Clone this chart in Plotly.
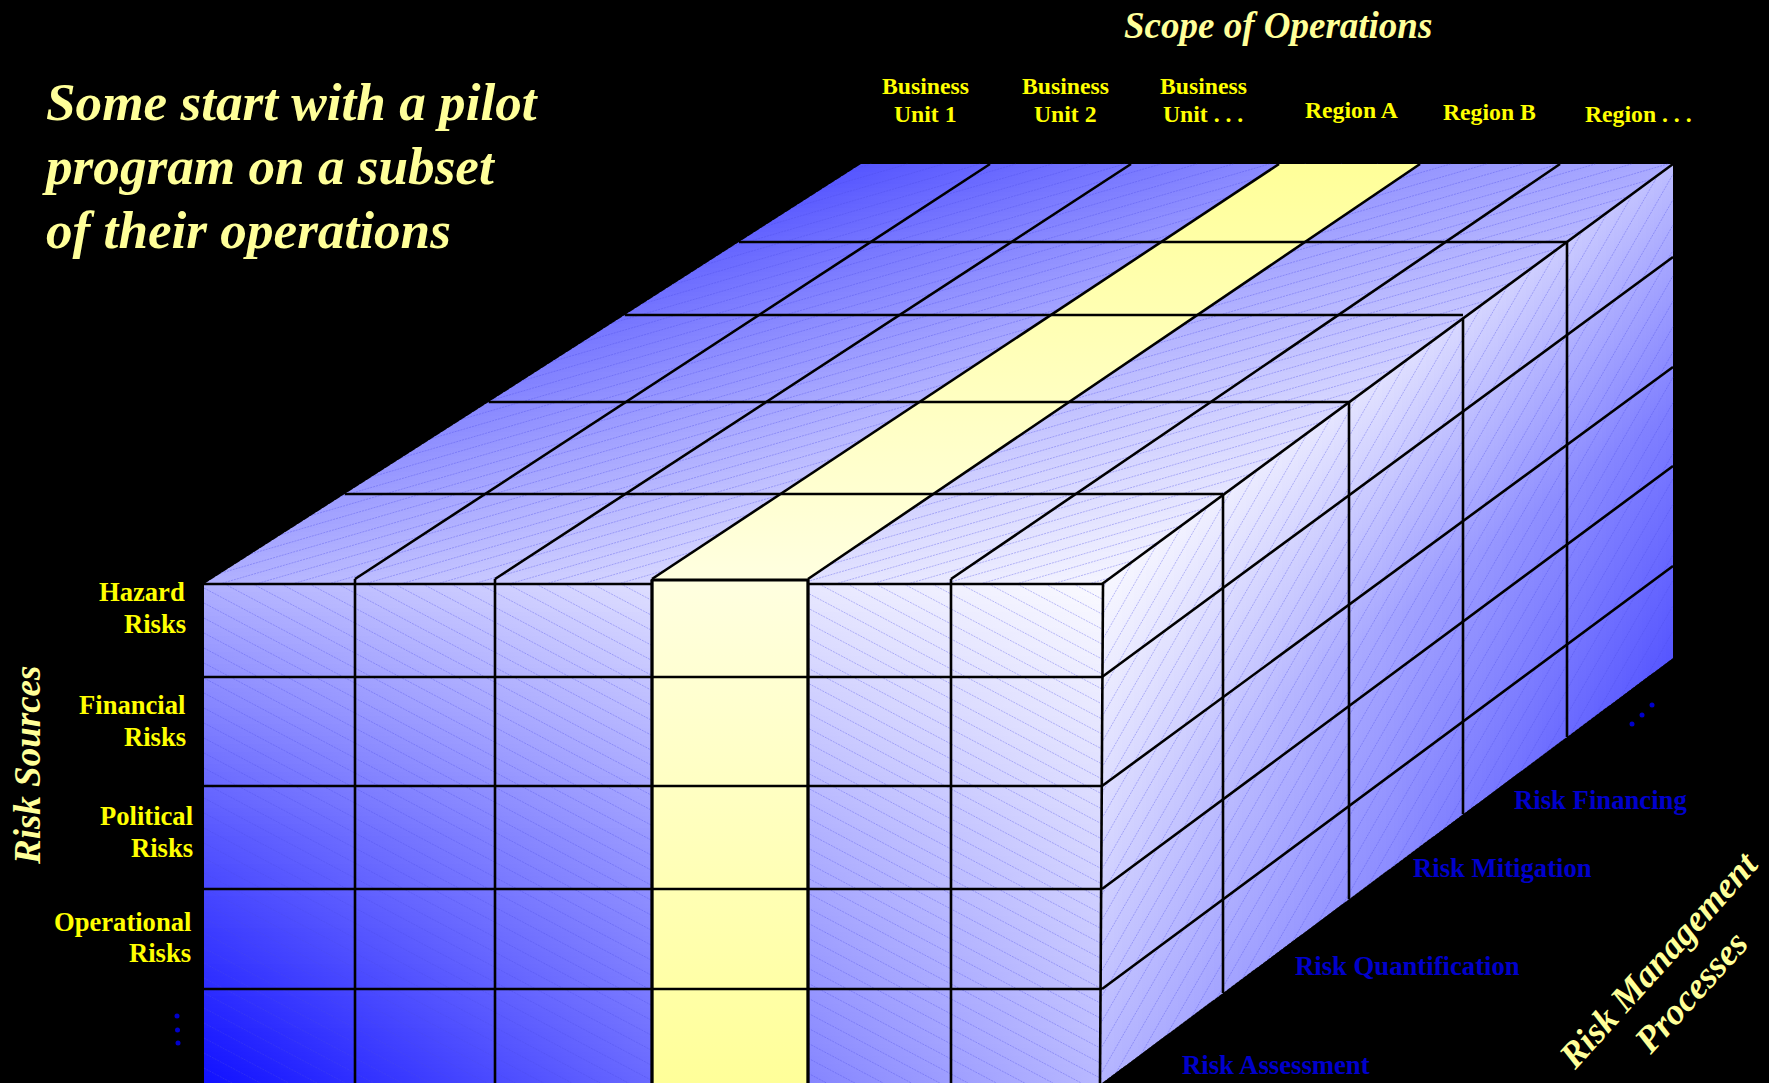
import numpy as np
import plotly.graph_objects as go

# Labels of the three cube axes
SCOPE_TITLE = "Scope of Operations"
SOURCES_TITLE = "Risk Sources"
PROCESS_TITLE = ["Risk Management", "Processes"]
HEADLINE = ["Some start with a pilot", "program on a subset", "of their operations"]
SCOPE_LABELS = [["Business", "Unit 1"], ["Business", "Unit 2"], ["Business", "Unit . . ."],
                ["Region A"], ["Region B"], ["Region . . ."]]
SOURCE_LABELS = [["Hazard", "Risks"], ["Financial", "Risks"], ["Political", "Risks"],
                 ["Operational", "Risks"]]
PROCESS_LABELS = ["Risk Financing", "Risk Mitigation", "Risk Quantification", "Risk Assessment"]

# Cube grid on the page, in pixels
FRONT_COLS = [204, 355, 495, 652, 808, 951, 1102]
BACK_COLS = [861, 990, 1131, 1279, 1420, 1560, 1673]
FRONT_ROWS = [584, 677, 786, 889, 989, 1083]
BACK_ROWS = [164, 257, 367, 466, 566, 658]
DEPTH_Y = [584, 494, 402, 315, 242, 164]
DEPTH_X = [1102, 1223, 1349, 1463, 1567, 1673]
HIGHLIGHT_COL = 3

# Red/green level of the blue faces on a coarse 3x3 grid (left to right, first to last)
FRONT_LEVELS = [[176, 222, 250], [86, 155, 216], [16, 105, 184]]
TOP_LEVELS = [[176, 215, 245], [128, 175, 210], [85, 136, 170]]
SIDE_LEVELS = [[248, 225, 190], [215, 165, 125], [180, 140, 85]]

YELLOW_LIGHT = "#FFFFE0"
YELLOW_DEEP = "#FFFF99"
PALE_TEXT = "#FFFF99"
LABEL_TEXT = "#FFFF00"
BLUE_TEXT = "#0000CC"
SERIF = "Liberation Serif"
STRIP = 4

depth_t = [(DEPTH_Y[0] - y) / (DEPTH_Y[0] - DEPTH_Y[-1]) for y in DEPTH_Y]


def level_at(grid, across, along):
    """Bilinear lookup in a 3x3 level grid, with both fractions in 0..1."""
    return float(np.interp(along, [0, .5, 1],
                           [np.interp(across, [0, .5, 1], row) for row in grid]))


def blue(level):
    v = int(round(level))
    return f"rgb({v},{v},255)"


fig = go.Figure()


def add_strip(xs, ys, direction, grid, fixed):
    """One thin polygon whose fill follows the level grid along its length."""
    if direction == "horizontal":
        stops = [[s, blue(level_at(grid, s, fixed))] for s in (0, .5, 1)]
    else:
        # vertical gradients start at the bottom of the polygon; depth is the fixed fraction
        stops = [[s, blue(level_at(grid, fixed, 1 - s))] for s in (0, .5, 1)]
    fig.add_trace(go.Scatter(x=xs, y=ys, mode="lines", fill="toself", line=dict(width=0),
                             fillgradient=dict(type=direction, colorscale=stops),
                             hoverinfo="skip", showlegend=False))


# Front face: thin rows, each with a left-to-right gradient
y0, y1 = FRONT_ROWS[0], FRONT_ROWS[-1]
for y in range(y0, y1, STRIP):
    bottom = min(y + STRIP + 1, y1)
    add_strip([FRONT_COLS[0], FRONT_COLS[-1], FRONT_COLS[-1], FRONT_COLS[0]],
              [y, y, bottom, bottom], "horizontal", FRONT_LEVELS, (y - y0) / (y1 - y0))

# Top face: thin rows sheared with the depth
ty0, ty1 = DEPTH_Y[0], DEPTH_Y[-1]
left_dx, right_dx = BACK_COLS[0] - FRONT_COLS[0], BACK_COLS[-1] - FRONT_COLS[-1]
for y in range(ty1, ty0, STRIP):
    bottom = min(y + STRIP + 1, ty0)
    ta, tb = (ty0 - y) / (ty0 - ty1), (ty0 - bottom) / (ty0 - ty1)
    add_strip([FRONT_COLS[0] + left_dx * ta, FRONT_COLS[-1] + right_dx * ta,
               FRONT_COLS[-1] + right_dx * tb, FRONT_COLS[0] + left_dx * tb],
              [y, y, bottom, bottom], "horizontal", TOP_LEVELS, ta)

# Side face: thin columns, each with a top-to-bottom gradient
sx0, sx1 = FRONT_COLS[-1], BACK_COLS[-1]


def side_y(front, back, x):
    return front + (back - front) * (x - sx0) / (sx1 - sx0)


for x in range(sx0, sx1, STRIP):
    right = min(x + STRIP + 1, sx1)
    ta = (x - sx0) / (sx1 - sx0)
    add_strip([x, right, right, x],
              [side_y(FRONT_ROWS[0], BACK_ROWS[0], x), side_y(FRONT_ROWS[0], BACK_ROWS[0], right),
               side_y(FRONT_ROWS[-1], BACK_ROWS[-1], right), side_y(FRONT_ROWS[-1], BACK_ROWS[-1], x)],
              "vertical", SIDE_LEVELS, ta)


def clip_to_convex(p, d, poly):
    """Cyrus-Beck clip of the line p + s*d against a convex polygon."""
    lo, hi = -1e9, 1e9
    n = len(poly)
    area = sum(poly[i][0] * poly[(i + 1) % n][1] - poly[(i + 1) % n][0] * poly[i][1] for i in range(n))
    sign = 1 if area > 0 else -1
    for i in range(n):
        ax, ay = poly[i]
        bx, by = poly[(i + 1) % n]
        nx, ny = -(by - ay) * sign, (bx - ax) * sign
        denom = nx * d[0] + ny * d[1]
        num = nx * (p[0] - ax) + ny * (p[1] - ay)
        if abs(denom) < 1e-9:
            if num < 0:
                return None
            continue
        s = -num / denom
        if denom > 0:
            lo = max(lo, s)
        else:
            hi = min(hi, s)
    return (lo, hi) if lo < hi else None


def add_hatch(poly, slope, spacing, vertical_step=True):
    """Fine dotted diagonal texture clipped to a face."""
    xs, ys = [], []
    d = (1.0, slope)
    px = [q[0] for q in poly]
    py = [q[1] for q in poly]
    if vertical_step:
        offsets = np.arange(min(py) - abs(slope) * (max(px) - min(px)) - spacing,
                            max(py) + abs(slope) * (max(px) - min(px)) + spacing, spacing)
        starts = [(min(px), o) for o in offsets]
    else:
        span = (max(py) - min(py)) / abs(slope)
        offsets = np.arange(min(px) - span - spacing, max(px) + span + spacing, spacing)
        starts = [(o, min(py)) for o in offsets]
    for p in starts:
        hit = clip_to_convex(p, d, poly)
        if hit:
            xs += [p[0] + hit[0], p[0] + hit[1], None]
            ys += [p[1] + hit[0] * slope, p[1] + hit[1] * slope, None]
    fig.add_trace(go.Scatter(x=xs, y=ys, mode="lines", hoverinfo="skip", showlegend=False,
                             line=dict(color="rgba(75,75,230,0.36)", width=1, dash="2px,1px")))


front_poly = [(FRONT_COLS[0], y0), (FRONT_COLS[-1], y0), (FRONT_COLS[-1], y1), (FRONT_COLS[0], y1)]
top_poly = [(FRONT_COLS[0], ty0), (BACK_COLS[0], ty1), (BACK_COLS[-1], ty1), (FRONT_COLS[-1], ty0)]
side_poly = [(sx0, FRONT_ROWS[0]), (sx1, BACK_ROWS[0]), (sx1, BACK_ROWS[-1]), (sx0, FRONT_ROWS[-1])]
add_hatch(front_poly, 0.53, 15)
add_hatch(top_poly, -0.29, 10.5)
add_hatch(side_poly, -1.75, 14.5, vertical_step=False)

# Highlighted column across the top and the front
HEAD_Y = 580
c = HIGHLIGHT_COL
top_band = [[0, YELLOW_LIGHT], [1, YELLOW_DEEP]]
front_band = [[0, YELLOW_DEEP], [1, YELLOW_LIGHT]]
fig.add_trace(go.Scatter(x=[FRONT_COLS[c], BACK_COLS[c], BACK_COLS[c + 1], FRONT_COLS[c + 1]],
                         y=[HEAD_Y, ty1, ty1, HEAD_Y], mode="lines", fill="toself",
                         line=dict(width=0), hoverinfo="skip", showlegend=False,
                         fillgradient=dict(type="vertical", colorscale=top_band)))
fig.add_trace(go.Scatter(x=[FRONT_COLS[c], FRONT_COLS[c + 1], FRONT_COLS[c + 1], FRONT_COLS[c]],
                         y=[HEAD_Y, HEAD_Y, y1, y1], mode="lines", fill="toself",
                         line=dict(width=0), hoverinfo="skip", showlegend=False,
                         fillgradient=dict(type="vertical", colorscale=front_band)))

# Cell borders
lx, ly = [], []


def segment(xa, ya, xb, yb):
    lx.extend([xa, xb, None])
    ly.extend([ya, yb, None])


for y in FRONT_ROWS[1:-1]:
    segment(FRONT_COLS[0], y, FRONT_COLS[-1], y)
segment(FRONT_COLS[0], FRONT_ROWS[0], FRONT_COLS[c], FRONT_ROWS[0])
segment(FRONT_COLS[c + 1], FRONT_ROWS[0], FRONT_COLS[-1], FRONT_ROWS[0])
for x in FRONT_COLS[1:-1]:
    segment(x, HEAD_Y - 1, x, y1)
segment(FRONT_COLS[-1] + 1, FRONT_ROWS[0], FRONT_COLS[-1] - 2, y1)
for fx, bx in list(zip(FRONT_COLS, BACK_COLS))[1:]:
    start_y = FRONT_ROWS[0] if fx == FRONT_COLS[-1] else HEAD_Y - 1
    segment(fx, start_y, bx, ty1)
for t, y, xr in list(zip(depth_t, DEPTH_Y, DEPTH_X))[1:-1]:
    segment(FRONT_COLS[0] + left_dx * t, y, xr, y)
for x in DEPTH_X[1:-1]:
    segment(x, side_y(FRONT_ROWS[0], BACK_ROWS[0], x), x, side_y(FRONT_ROWS[-1], BACK_ROWS[-1], x))
for fy, by in list(zip(FRONT_ROWS, BACK_ROWS))[1:-1]:
    segment(sx0, fy, sx1, by)
fig.add_trace(go.Scatter(x=lx, y=ly, mode="lines", line=dict(color="black", width=2.6),
                         hoverinfo="skip", showlegend=False))

# Heavier outline round the highlighted front cell
fig.add_trace(go.Scatter(
    x=[FRONT_COLS[c], FRONT_COLS[c], None, FRONT_COLS[c + 1], FRONT_COLS[c + 1], None,
       FRONT_COLS[c], FRONT_COLS[c + 1]],
    y=[HEAD_Y, y1, None, HEAD_Y, y1, None, HEAD_Y, HEAD_Y],
    mode="lines", line=dict(color="black", width=3), hoverinfo="skip", showlegend=False))

# Ellipsis dots after the last row and the last process
fig.add_trace(go.Scatter(x=[177, 177.5, 178, 1632, 1642, 1652], y=[1016, 1030, 1043, 724, 715, 705],
                         mode="markers", marker=dict(color=BLUE_TEXT, size=5),
                         hoverinfo="skip", showlegend=False))


def text(x, y, s, size, color, anchor="center", italic=False, angle=0):
    fig.add_annotation(x=x, y=y, text=s, xref="x", yref="y", showarrow=False, xanchor=anchor,
                       yanchor="middle", textangle=angle, borderpad=0,
                       font=dict(family=SERIF, size=size, color=color, weight="bold",
                                 style="italic" if italic else "normal"))


for line, x, y in zip(HEADLINE, [45, 41, 45], [102, 166, 230]):
    text(x, y, line, 53.2, PALE_TEXT, anchor="left", italic=True)
text(1278, 25, SCOPE_TITLE, 37, PALE_TEXT, italic=True)
text(27, 766, SOURCES_TITLE, 37, PALE_TEXT, italic=True, angle=-90)
text(1658, 959, PROCESS_TITLE[0], 36.5, PALE_TEXT, italic=True, angle=-48)
text(1690, 992, PROCESS_TITLE[1], 37, PALE_TEXT, italic=True, angle=-48)

scope_x = [925.5, 1065.5, 1203, 1351, 1489, 1638]
scope_y = [[86, 114], [86, 114], [86, 114], [110], [112], [114]]
for lines, x, ys in zip(SCOPE_LABELS, scope_x, scope_y):
    for line, y in zip(lines, ys):
        text(x, y, line, 23.7, LABEL_TEXT)

source_right = [[185.5, 186.5], [185.5, 186.5], [193.5, 193.5], [191.5, 191.5]]
source_y = [[592, 624], [705, 737], [816, 848], [922, 953]]
for lines, xs, ys in zip(SOURCE_LABELS, source_right, source_y):
    for line, x, y in zip(lines, xs, ys):
        text(x, y, line, 26.6, LABEL_TEXT, anchor="right")

for line, x, y in zip(PROCESS_LABELS, [1513, 1411.5, 1294, 1181], [800, 868, 966, 1065]):
    text(x, y, line, 26.7, BLUE_TEXT, anchor="left")

fig.update_layout(
    width=1769, height=1083, margin=dict(l=0, r=0, t=0, b=0),
    paper_bgcolor="black", plot_bgcolor="black", showlegend=False,
    xaxis=dict(range=[0, 1769], visible=False, fixedrange=True),
    yaxis=dict(range=[1083, 0], visible=False, fixedrange=True),
)
fig.write_html("out.html", config=dict(displayModeBar=False))
